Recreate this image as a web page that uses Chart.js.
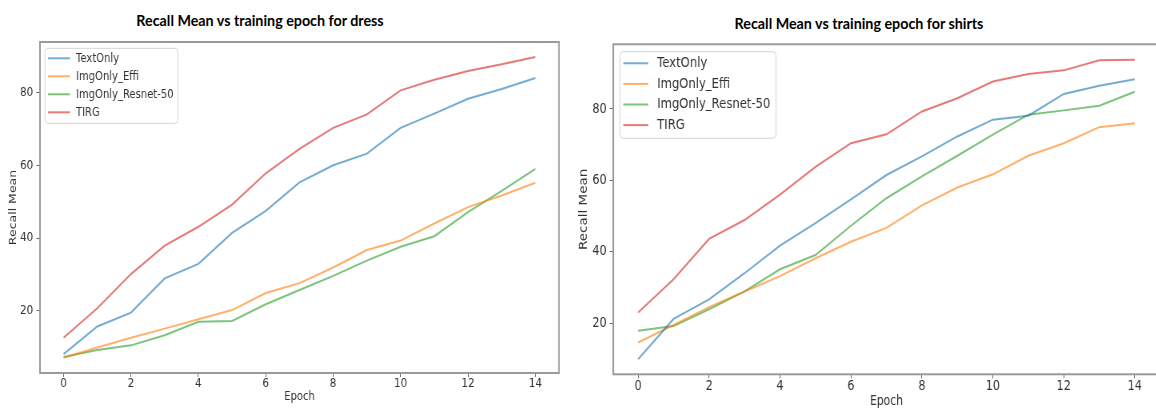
<!DOCTYPE html>
<html>
<head>
<meta charset="utf-8">
<script src="https://cdn.jsdelivr.net/npm/chart.js@4.4.1/dist/chart.umd.min.js"></script>
<style>
  html, body { margin: 0; padding: 0; background: #fff; }
  body { position: relative; width: 1156px; height: 410px; overflow: hidden; }
  .wrap { position: absolute; top: 0; transform: scaleX(0.8); transform-origin: 0 0; }
  .title { position: absolute; font-family: Lato, sans-serif; font-weight: bold; font-size: 14.3px;
           color: #000; white-space: nowrap; transform: translateX(-50%); }
</style>
</head>
<body>
<div class="title" style="left:260px; top:12px">Recall Mean vs training epoch for dress</div>
<div class="title" style="left:859px; top:15px">Recall Mean vs training epoch for shirts</div>
<div class="wrap" style="left:0"><canvas id="dress" width="719" height="410"></canvas></div>
<div class="wrap" style="left:570px"><canvas id="shirts" width="760" height="410"></canvas></div>

<script>
// shared axes
const epochs = [0, 1, 2, 3, 4, 5, 6, 7, 8, 9, 10, 11, 12, 13, 14];
const xTicks = [0, 2, 4, 6, 8, 10, 12, 14];
const yTicks = [20, 40, 60, 80];
const seriesNames = ["TextOnly", "ImgOnly_Effi", "ImgOnly_Resnet-50", "TIRG"];
const seriesColors = ["rgba(31,119,180,0.62)", "rgba(255,127,14,0.62)", "rgba(44,160,44,0.62)", "rgba(214,39,40,0.62)"];

// dress
const dressText   = [8.1, 15.7, 19.5, 28.9, 32.9, 41.4, 47.5, 55.3, 60.0, 63.2, 70.3, 74.2, 78.3, 81.0, 84.0];
const dressEffi   = [7.1, 9.9, 12.6, 15.1, 17.7, 20.2, 24.9, 27.6, 31.9, 36.7, 39.3, 44.0, 48.5, 51.7, 55.2];
const dressResnet = [7.3, 9.2, 10.5, 13.3, 17.0, 17.2, 21.8, 25.7, 29.6, 33.8, 37.6, 40.5, 47.1, 53.0, 59.0];
const dressTirg   = [12.6, 20.7, 30.1, 37.9, 43.1, 49.2, 57.8, 64.5, 70.3, 74.0, 80.6, 83.5, 85.9, 87.8, 89.8];

// shirts
const shirtsText   = [9.9, 21.2, 26.7, 34.0, 41.7, 48.0, 54.7, 61.5, 66.7, 72.3, 77.0, 78.1, 84.2, 86.5, 88.3];
const shirtsEffi   = [14.6, 19.5, 24.5, 28.9, 33.2, 38.2, 42.8, 46.7, 53.0, 58.0, 61.7, 66.9, 70.4, 74.9, 76.0];
const shirtsResnet = [17.9, 19.2, 23.9, 28.9, 35.1, 39.1, 47.3, 55.0, 61.1, 66.9, 72.8, 78.4, 79.6, 80.9, 84.8];
const shirtsTirg   = [23.0, 32.3, 43.6, 48.9, 56.0, 63.8, 70.4, 72.9, 79.3, 83.0, 87.7, 89.8, 90.8, 93.6, 93.8];

const FONT = "DejaVu Sans";

// box around the plot area (all four spines)
const frame = {
  id: "frame",
  beforeDatasetsDraw(chart) {
    const { ctx, chartArea: a } = chart;
    ctx.save();
    ctx.strokeStyle = "#9a9a9a";
    ctx.lineWidth = 2;
    ctx.strokeRect(a.left, a.top, a.right - a.left, a.bottom - a.top);
    ctx.restore();
  }
};

// matplotlib-like legend in the upper left corner
const legendBox = {
  id: "legendBox",
  afterDraw(chart, args, o) {
    const ctx = chart.ctx;
    ctx.save();
    ctx.fillStyle = "rgba(255,255,255,0.85)";
    ctx.strokeStyle = "#d4d4d4";
    ctx.lineWidth = 1;
    ctx.beginPath();
    ctx.roundRect(o.x, o.y, o.w, o.h, 4);
    ctx.fill();
    ctx.stroke();
    ctx.font = o.size + "px '" + FONT + "'";
    ctx.textBaseline = "middle";
    chart.data.datasets.forEach((ds, i) => {
      const y = o.rowY + i * o.rowGap;
      ctx.strokeStyle = ds.borderColor;
      ctx.lineWidth = 2;
      ctx.beginPath();
      ctx.moveTo(o.lineX0, y);
      ctx.lineTo(o.lineX1, y);
      ctx.stroke();
      ctx.fillStyle = "#333";
      ctx.fillText(ds.label, o.textX, y);
    });
    ctx.restore();
  }
};

function makeChart(id, values, o) {
  const datasets = values.map((vals, i) => ({
    label: seriesNames[i],
    data: epochs.map((e, j) => ({ x: e, y: vals[j] })),
    borderColor: seriesColors[i],
    borderWidth: 2,
    pointRadius: 0,
    tension: 0,
    fill: false
  }));

  return new Chart(document.getElementById(id), {
    type: "line",
    data: { datasets },
    options: {
      responsive: false,
      animation: false,
      layout: { padding: { top: o.top, right: o.right, bottom: 0, left: 0 } },
      plugins: {
        legend: { display: false },
        tooltip: { enabled: false },
        legendBox: o.legend
      },
      scales: {
        x: {
          type: "linear",
          min: -0.7,
          max: 14.7,
          afterBuildTicks: s => { s.ticks = xTicks.map(v => ({ value: v })); },
          afterFit: s => { s.height = o.xAxisH; },
          grid: { drawOnChartArea: false, tickLength: 4, color: "#666" },
          border: { display: false },
          ticks: { color: "#333", padding: o.xTickPad, maxRotation: 0,
                   font: { family: FONT, size: o.tick, lineHeight: 1 } },
          title: { display: true, text: "Epoch", color: "#333",
                   font: { family: FONT, size: o.label }, padding: { top: 0, bottom: o.xTitlePad } }
        },
        y: {
          min: o.yMin,
          max: o.yMax,
          afterBuildTicks: s => { s.ticks = yTicks.map(v => ({ value: v })); },
          afterFit: s => { s.width = o.yAxisW; },
          grid: { drawOnChartArea: false, tickLength: 4.5, color: "#666" },
          border: { display: false },
          ticks: { color: "#333", padding: o.yTickPad,
                   font: { family: FONT, size: o.tick, lineHeight: 1 } },
          title: { display: true, text: "Recall Mean", color: "#333",
                   font: { family: FONT, size: o.label }, padding: { top: o.yTitlePad, bottom: 0 } }
        }
      }
    },
    plugins: [frame, legendBox]
  });
}

makeChart("dress", [dressText, dressEffi, dressResnet, dressTirg], {
  top: 42, right: 20.25, xAxisH: 37, yAxisW: 50,
  yMin: 2.9, yMax: 93.9,
  tick: 13, label: 12.5,
  xTickPad: 0, yTickPad: 4, xTitlePad: 5.5, yTitlePad: 9.7,
  legend: { x: 56.25, y: 48.3, w: 166.25, h: 75, lineX0: 60, lineX1: 87.5, textX: 95,
            rowY: 58.3, rowGap: 18, size: 12.5 }
});

makeChart("shirts", [shirtsText, shirtsEffi, shirtsResnet, shirtsTirg], {
  top: 44.3, right: 23, xAxisH: 35.7, yAxisW: 54.1,
  yMin: 5.7, yMax: 98.1,
  tick: 14, label: 13.5,
  xTickPad: 1.2, yTickPad: 3.7, xTitlePad: 0.6, yTitlePad: 9.4,
  legend: { x: 62.5, y: 51.7, w: 195, h: 86.6, lineX0: 66.6, lineX1: 97.9, textX: 109,
            rowY: 63.3, rowGap: 20.6, size: 14.5 }
});
</script>
</body>
</html>
